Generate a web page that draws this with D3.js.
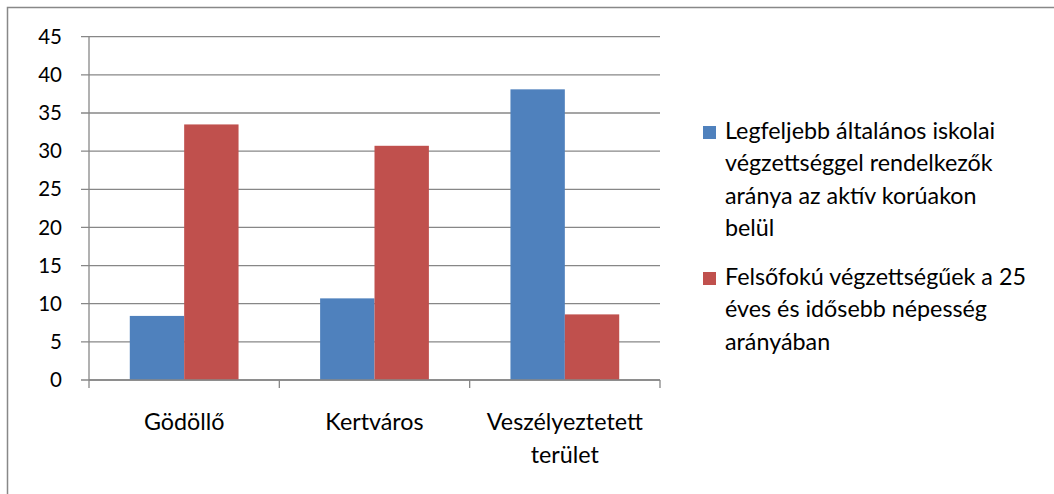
<!DOCTYPE html>
<html>
<head>
<meta charset="utf-8">
<script src="https://cdn.jsdelivr.net/npm/d3@7"></script>
<style>
  body { margin: 0; background: #fff; }
  svg { display: block; font-family: Lato, "Open Sans", sans-serif; }
</style>
</head>
<body>
<div id="chart"></div>
<script>
// data
var categories = ["Gödöllő", "Kertváros", "Veszélyeztetett terület"];
var seriesNames = [
  "Legfeljebb általános iskolai végzettséggel rendelkezők aránya az aktív korúakon belül",
  "Felsőfokú végzettségűek a 25 éves és idősebb népesség arányában"
];
var alapfok = [8.4, 10.7, 38.1];
var felsofok = [33.5, 30.7, 8.6];
var yTicks = [0, 5, 10, 15, 20, 25, 30, 35, 40, 45];

var legendLines = [
  ["Legfeljebb általános iskolai", "végzettséggel rendelkezők", "aránya az aktív korúakon", "belül"],
  ["Felsőfokú végzettségűek a 25", "éves és idősebb népesség", "arányában"]
];
var catLines = [["Gödöllő"], ["Kertváros"], ["Veszélyeztetett", "terület"]];
var colors = ["#4F81BD", "#C0504D"];

var svgWidth = 1054, svgHeight = 494;
var margin = { top: 36.7, left: 89, right: 394, bottom: 114 };
var width = svgWidth - margin.left - margin.right;   // 571
var height = 380 - margin.top;
var textSize = "23.3px";

var svg = d3.select("#chart").append("svg")
  .attr("width", svgWidth)
  .attr("height", svgHeight);

// outer chart border (only top and left fall inside the picture)
svg.append("path")
  .attr("d", "M7.5," + svgHeight + "V7.5H" + svgWidth)
  .attr("fill", "none")
  .attr("stroke", "#888")
  .attr("stroke-width", 1.5);

var chartGroup = svg.append("g")
  .attr("transform", `translate(${margin.left}, ${margin.top})`);

var x0 = d3.scaleBand().domain(categories).range([0, width]).padding(0);
// gap width 150%: two bars take 2/3.5 of each category
var x1 = d3.scaleBand().domain([0, 1])
  .range([0, x0.bandwidth() * 2 / 3.5]);
var yLinearScale = d3.scaleLinear().domain([0, 45]).range([height, 0]);

// gridlines
chartGroup.append("g")
  .selectAll("line")
  .data(yTicks)
  .enter()
  .append("line")
  .attr("x1", -8)
  .attr("x2", width)
  .attr("y1", d => yLinearScale(d))
  .attr("y2", d => yLinearScale(d))
  .attr("stroke", "#878787")
  .attr("stroke-width", 1.3);

// y tick labels
chartGroup.append("g")
  .selectAll("text")
  .data(yTicks)
  .enter()
  .append("text")
  .attr("x", -27)
  .attr("y", d => yLinearScale(d))
  .attr("dy", "0.35em")
  .attr("text-anchor", "end")
  .attr("font-size", "20.5px")
  .attr("fill", "#000")
  .text(d => d);

// bars
var seriesVals = [alapfok, felsofok];
var groupOffset = (x0.bandwidth() - x1.range()[1]) / 2;
seriesVals.forEach(function (vals, si) {
  chartGroup.append("g")
    .selectAll("rect")
    .data(vals)
    .enter()
    .append("rect")
    .attr("x", (d, i) => x0(categories[i]) + groupOffset + x1(si))
    .attr("y", d => yLinearScale(d))
    .attr("width", x1.bandwidth())
    .attr("height", d => height - yLinearScale(d))
    .attr("fill", colors[si]);
});

// y axis line
chartGroup.append("line")
  .attr("x1", 0).attr("x2", 0)
  .attr("y1", 0).attr("y2", height)
  .attr("stroke", "#878787")
  .attr("stroke-width", 1.3);

// x axis line + category ticks
chartGroup.append("line")
  .attr("x1", 0).attr("x2", width)
  .attr("y1", height).attr("y2", height)
  .attr("stroke", "#878787")
  .attr("stroke-width", 1.3);

var tickPos = categories.map(c => x0(c)).concat([width]);
chartGroup.append("g")
  .selectAll("line")
  .data(tickPos)
  .enter()
  .append("line")
  .attr("x1", d => d).attr("x2", d => d)
  .attr("y1", height).attr("y2", height + 8)
  .attr("stroke", "#878787")
  .attr("stroke-width", 1.3);

// category labels
var catGroup = chartGroup.append("g");
categories.forEach(function (c, i) {
  catLines[i].forEach(function (line, li) {
    catGroup.append("text")
      .attr("x", x0(c) + x0.bandwidth() / 2)
      .attr("y", height + 50 + li * 33)
      .attr("text-anchor", "middle")
      .attr("font-size", textSize)
      .attr("fill", "#000")
      .text(line);
  });
});

// legend
var legend = svg.append("g");
var legendTop = [139, 285];
legendLines.forEach(function (lines, si) {
  legend.append("rect")
    .attr("x", 703)
    .attr("y", legendTop[si] - 13)
    .attr("width", 13)
    .attr("height", 13)
    .attr("fill", colors[si]);
  lines.forEach(function (line, li) {
    legend.append("text")
      .attr("x", 725)
      .attr("y", legendTop[si] + li * 32.4)
      .attr("font-size", textSize)
      .attr("fill", "#000")
      .text(line);
  });
});
</script>
</body>
</html>
